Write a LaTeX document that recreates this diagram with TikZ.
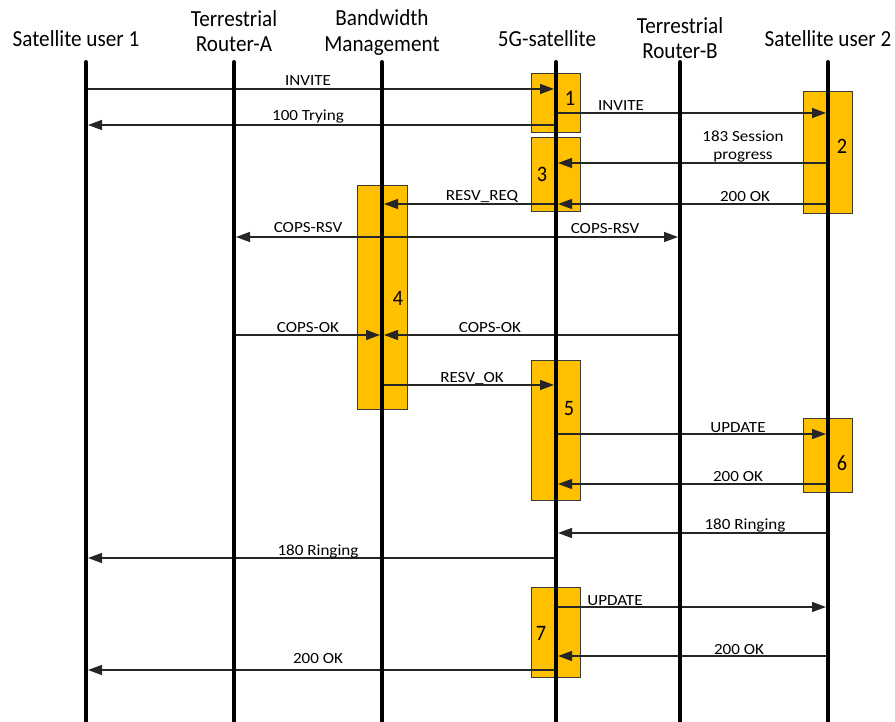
\documentclass[tikz,border=0pt]{standalone}
\usepackage{fontspec}
\setmainfont{Carlito}
\newfontfamily\hdrfont[FakeStretch=0.92]{Carlito}
\newfontfamily\lblfont[FakeStretch=1.1]{Carlito}
\usetikzlibrary{arrows.meta}
\definecolor{actbox}{HTML}{FFC000}
\definecolor{actedge}{HTML}{3A3A3A}
\begin{document}
\begin{tikzpicture}[x=1pt,y=-1pt,
  lifeline/.style={line width=4pt, black, line cap=round},
  msg/.style={line width=1.3pt, draw=black!85, -{Triangle[length=14pt,width=10pt]}, shorten >=2pt},
  act/.style={draw=actedge, line width=1pt, fill=actbox},
  hdr/.style={font=\hdrfont\fontsize{23}{25.5}\selectfont, align=center, inner sep=0pt, anchor=base},
  lbl/.style={font=\lblfont\fontsize{15.5}{18}\selectfont, align=center, inner sep=0pt, anchor=base},
  num/.style={font=\hdrfont\fontsize{22}{24}\selectfont, inner sep=0pt}
]
\useasboundingbox (0,0) rectangle (895,722);

% headers (base anchor = baseline of last line)
\node[hdr] (h1) at (76,46.7) {Satellite user 1};
\node[hdr] (h2) at (234,51.7) {Terrestrial\\Router-A};
\node[hdr] (h3) at (382,51.5) {Bandwidth\\Management};
\node[hdr] (h4) at (547,47) {5G-satellite};
\node[hdr] (h5) at (680,59) {Terrestrial\\Router-B};
\node[hdr] (h6) at (828,46.5) {Satellite user 2};

% lifeline coordinates
\coordinate (L1) at (86,62);
\coordinate (L2) at (234,62);
\coordinate (L3) at (382,62);
\coordinate (L4) at (556,62);
\coordinate (L5) at (680,62);
\coordinate (L6) at (828,62);
\coordinate (E1) at (86,730);
\coordinate (E2) at (234,730);
\coordinate (E3) at (382,730);
\coordinate (E4) at (556,730);
\coordinate (E5) at (680,730);
\coordinate (E6) at (828,730);

% activation boxes
\draw[act] (531,74) rectangle (580,133);
\draw[act] (531,138) rectangle (580,212);
\draw[act] (803,92) rectangle (852,214);
\draw[act] (357,186) rectangle (407,409);
\draw[act] (531,360) rectangle (580,500);
\draw[act] (803,418) rectangle (852,492);
\draw[act] (531,587) rectangle (580,677);
\node[num] (n1) at (570,98) {1};
\node[num] (n2) at (842,146) {2};
\node[num] (n3) at (542,174) {3};
\node[num] (n4) at (398,298) {4};
\node[num] (n5) at (569,409) {5};
\node[num] (n6) at (842,463) {6};
\node[num] (n7) at (541,633) {7};

% messages
\draw[msg] (L1 |- 0,89) -- (L4 |- 0,89);
\node[lbl] (t1) at (308,86) {INVITE};
\draw[msg] (L4 |- 0,125) -- (L1 |- 0,125);
\node[lbl] (t2) at (308,121) {100 Trying};
\draw[msg] (L4 |- 0,113) -- (L6 |- 0,113);
\node[lbl] (t3) at (621,111) {INVITE};
\draw[msg] (L6 |- 0,163) -- (L4 |- 0,163);
\node[lbl] (t4) at (743,160) {183 Session\\progress};
\draw[msg] (L6 |- 0,204) -- (L4 |- 0,204);
\node[lbl] (t5) at (745,201.5) {200 OK};
\draw[msg] (L4 |- 0,204) -- (L3 |- 0,204);
\node[lbl] (t6) at (482,200.5) {RESV\_REQ};
\draw[msg] (L3 |- 0,237) -- (L2 |- 0,237);
\node[lbl] (t7) at (308,233) {COPS-RSV};
\draw[msg] (L3 |- 0,237) -- (L5 |- 0,237);
\node[lbl] (t8) at (605,234) {COPS-RSV};
\draw[msg] (L2 |- 0,335) -- (L3 |- 0,335);
\node[lbl] (t9) at (308,333) {COPS-OK};
\draw[msg] (L5 |- 0,335) -- (L3 |- 0,335);
\node[lbl] (t10) at (490,333) {COPS-OK};
\draw[msg] (L3 |- 0,385) -- (L4 |- 0,385);
\node[lbl] (t11) at (472,382.5) {RESV\_OK};
\draw[msg] (L4 |- 0,434) -- (L6 |- 0,434);
\node[lbl] (t12) at (738,432) {UPDATE};
\draw[msg] (L6 |- 0,484) -- (L4 |- 0,484);
\node[lbl] (t13) at (738,481.5) {200 OK};
\draw[msg] (L6 |- 0,533) -- (L4 |- 0,533);
\node[lbl] (t14) at (745,529.5) {180 Ringing};
\draw[msg] (L4 |- 0,558) -- (L1 |- 0,558);
\node[lbl] (t15) at (318,555) {180 Ringing};
\draw[msg] (L4 |- 0,607) -- (L6 |- 0,607);
\node[lbl] (t16) at (615,605) {UPDATE};
\draw[msg] (L6 |- 0,656) -- (L4 |- 0,656);
\node[lbl] (t17) at (739,654) {200 OK};
\draw[msg] (L4 |- 0,670) -- (L1 |- 0,670);
\node[lbl] (t18) at (318,663) {200 OK};

% lifelines
\foreach \i in {1,...,6} { \draw[lifeline] (L\i) -- (E\i); }
\end{tikzpicture}
\end{document}
